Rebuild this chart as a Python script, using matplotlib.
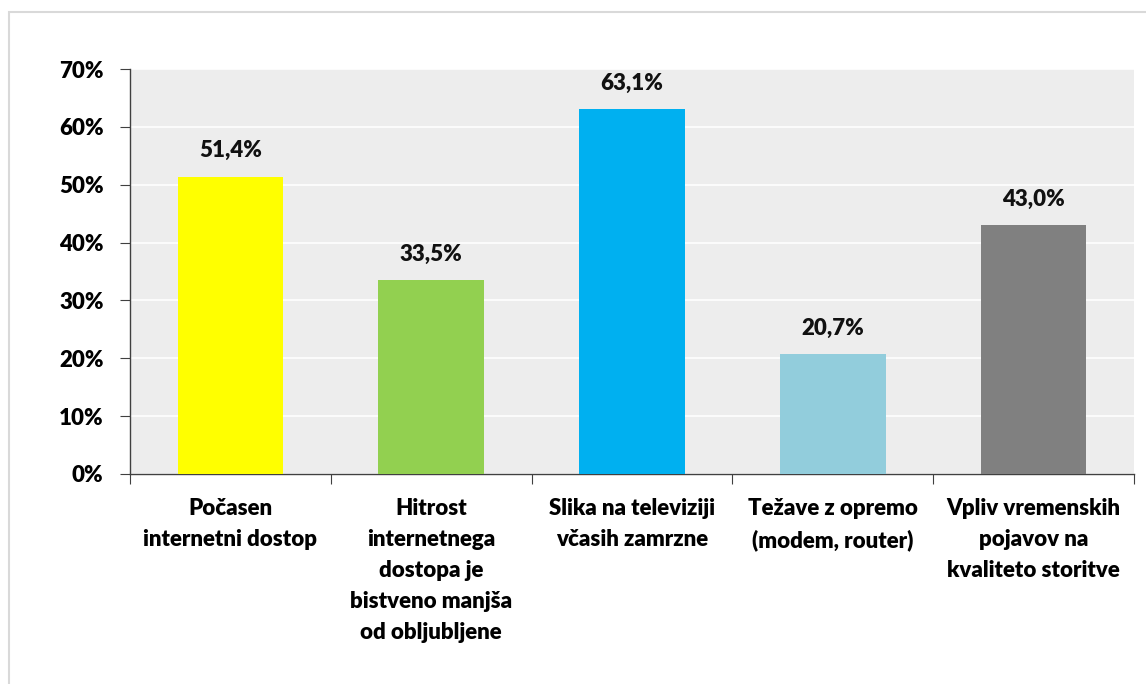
import matplotlib
matplotlib.use("Agg")
import matplotlib.pyplot as plt
from matplotlib.patches import Rectangle
import numpy as np

categories = [
    "Počasen\ninternetni dostop",
    "Hitrost\ninternetnega\ndostopa je\nbistveno manjša\nod obljubljene",
    "Slika na televiziji\nvčasih zamrzne",
    "Težave z opremo\n(modem, router)",
    "Vpliv vremenskih\npojavov na\nkvaliteto storitve",
]
values = [51.4, 33.5, 63.1, 20.7, 43.0]
value_labels = ["51,4%", "33,5%", "63,1%", "20,7%", "43,0%"]
colors = ["#FFFF00", "#92D050", "#00B0F0", "#92CDDC", "#808080"]
yticks = [0, 10, 20, 30, 40, 50, 60, 70]
ytick_labels = ["0%", "10%", "20%", "30%", "40%", "50%", "60%", "70%"]

plt.rcParams['font.family'] = ['Lato', 'DejaVu Sans']
FW = "heavy"

W, H = 1146, 684
fig = plt.figure(figsize=(W / 100, H / 100), dpi=100)
fig.patch.set_facecolor("white")

# outer chart frame
fig.patches.append(Rectangle((9 / W, -0.1), 1.2, (H - 12) / H + 0.1,
                             transform=fig.transFigure, fill=False,
                             edgecolor="#D9D9D9", linewidth=1.5))

ax = fig.add_axes([130 / W, (H - 474) / H, (1134 - 130) / W, (474 - 69) / H])
ax.set_facecolor("#EDEDED")

x = np.arange(len(values))
ax.bar(x, values, width=0.525, color=colors, zorder=3)
for xi, v, lab in zip(x, values, value_labels):
    ax.annotate(lab, (xi, v), xytext=(0, 11), textcoords="offset points",
                ha="center", va="bottom", fontsize=16, fontweight=FW,
                color="#111111", zorder=4)

ax.set_xlim(-0.5, len(values) - 0.5)
ax.set_ylim(0, 70)
ax.set_yticks(yticks)
ax.set_yticklabels(ytick_labels, fontsize=16, fontweight=FW)
ax.yaxis.grid(True, color="white", linewidth=1.2, zorder=0)
ax.set_axisbelow(True)

ax.set_xticks(np.arange(len(values) + 1) - 0.5)
ax.set_xticklabels([])
ax.set_xticks(x, minor=True)
ax.set_xticklabels(categories, minor=True, fontsize=16, fontweight=FW,
                   linespacing=1.6, va="top")
ax.tick_params(axis="x", which="minor", length=0, pad=17)
ax.tick_params(axis="x", which="major", length=7, color="#404040", direction="out")
ax.tick_params(axis="y", length=7, color="#404040", direction="out", pad=12)

for s in ["top", "right"]:
    ax.spines[s].set_visible(False)
for s in ["left", "bottom"]:
    ax.spines[s].set_color("#404040")
    ax.spines[s].set_linewidth(1.0)

fig.savefig("out.png", dpi=100, facecolor="white")
